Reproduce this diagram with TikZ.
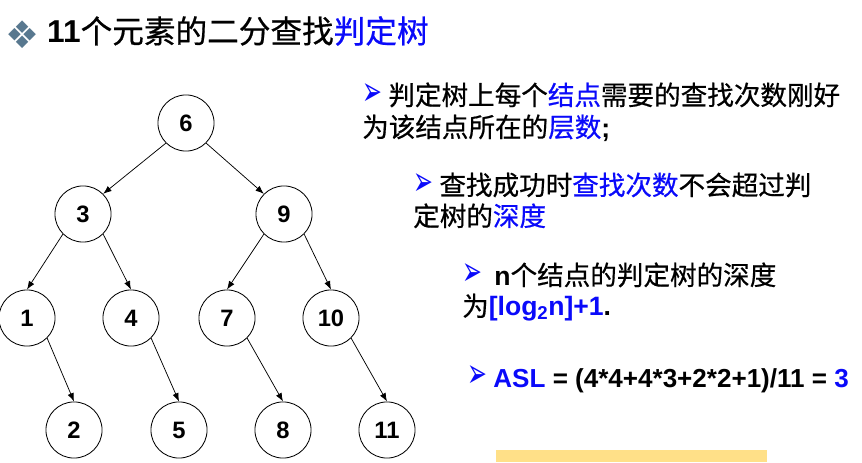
\documentclass[tikz,border=0pt]{standalone}
\usepackage{fontspec}
\usepackage{xcolor}
\setmainfont{Liberation Sans}
\newfontfamily\cjk{Noto Sans CJK SC}[FakeBold=0.6]
\newfontfamily\symfnt{DejaVu Sans}
\usetikzlibrary{positioning, arrows.meta}

\definecolor{hlblue}{RGB}{10,10,250}
\definecolor{dgray}{RGB}{88,120,143}
\definecolor{notey}{RGB}{255,224,136}

\newcommand{\blu}[1]{\textcolor{hlblue}{#1}}
\newcommand{\lat}[1]{{\rmfamily\bfseries #1}}
\newcommand{\bul}{{\symfnt\color{hlblue}\fontsize{30}{30}\selectfont\scalebox{0.75}[1.3]{➢}}\hspace{6pt}}

\begin{document}
\begin{tikzpicture}[
    tnode/.style={circle, draw, line width=0.8pt, minimum size=1.87cm, inner sep=0pt, font=\fontsize{22.5}{26}\selectfont\bfseries},
    arrow/.style={-{Latex[length=8pt,width=6pt]}, line width=0.7pt},
    txt/.style={anchor=base west, inner sep=0pt, font=\fontsize{25.2}{30}\selectfont\cjk}
]
    \useasboundingbox (0,0) rectangle (28.733,15.4);

    % Title
    \node[text=dgray, font=\fontsize{36}{40}\selectfont\symfnt] (deco) at (0.75,14.25) {❖};
    \node[txt, font=\fontsize{30}{34}\selectfont\cjk] (title) at (1.567,13.967) {\lat{11}个元素的二分查找\blu{判定树}};

    % Decision tree
    \node[tnode] (n6) at (6.2,11.3) {6};
    \node[tnode] (n3) at (2.767,8.267) {3};
    \node[tnode] (n9) at (9.467,8.267) {9};
    \node[tnode] (n1) at (0.9,4.8) {1};
    \node[tnode] (n4) at (4.367,4.8) {4};
    \node[tnode] (n7) at (7.567,4.8) {7};
    \node[tnode] (n10) at (11.033,4.8) {10};
    \node[tnode] (n2) at (2.467,1.067) {2};
    \node[tnode] (n5) at (5.967,1.067) {5};
    \node[tnode] (n8) at (9.433,1.067) {8};
    \node[tnode] (n11) at (12.9,1.067) {11};

    \draw[arrow] (n6.south west) -- (n3.north east);
    \draw[arrow] (n6.south east) -- (n9.north west);
    \draw[arrow] (n3.south west) -- (n1.north);
    \draw[arrow] (n3.south east) -- (n4.north);
    \draw[arrow] (n9.south west) -- (n7.north);
    \draw[arrow] (n9.south east) -- (n10.north);
    \draw[arrow] (n1.south east) -- (n2.north);
    \draw[arrow] (n4.south east) -- (n5.north);
    \draw[arrow] (n7.south east) -- (n8.north);
    \draw[arrow] (n10.south east) -- (n11.north);

    % Notes
    \node[txt] (p1a) at (12.067,11.9) {\bul 判定树上每个\blu{结点}需要的查找次数刚好};
    \node[txt] (p1b) at (12.067,10.833) {为该结点所在的\blu{层数}\lat{;}};
    \node[txt] (p2a) at (13.767,8.9) {\bul 查找成功时\blu{查找次数}不会超过判};
    \node[txt] (p2b) at (13.767,7.867) {定树的\blu{深度}};
    \node[txt] (p3a) at (15.4,5.9) {\bul\ \lat{n}个结点的判定树的深度};
    \node[txt] (p3b) at (15.4,4.867) {为\blu{\lat{[log\textsubscript{2}n]+1}}\lat{.}};
    \node[txt, font=\fontsize{24.7}{30}\selectfont\cjk] (p4) at (15.567,2.467) {\bul \lat{\blu{ASL} = (4*4+4*3+2*2+1)/11 = \blu{3}}};

    \fill[notey] (16.533,0) rectangle (25.567,0.4);
\end{tikzpicture}
\end{document}
